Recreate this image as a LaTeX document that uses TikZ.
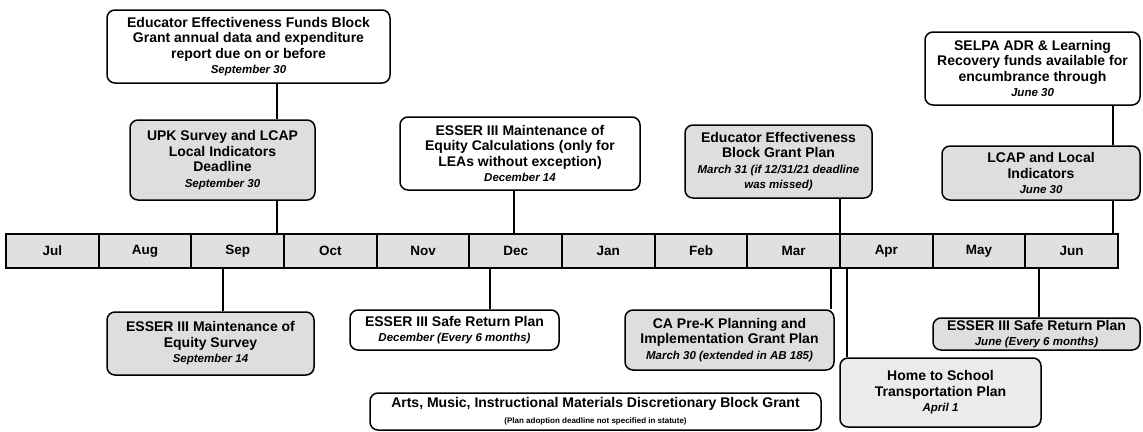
\documentclass[tikz,border=0pt]{standalone}
\usepackage{fontspec}
\setmainfont{Liberation Sans}
\usetikzlibrary{positioning}

\newcommand{\duedate}[1]{{\fontsize{11.5}{13}\selectfont\itshape #1}}

\begin{document}
\begin{tikzpicture}[x=1pt, y=1pt]

\tikzset{
  card/.style    = {rectangle, rounded corners=8pt, align=center, inner sep=0pt,
                    draw=black, line width=1.5pt, fill=white, text=black,
                    font=\fontsize{14}{15.5}\selectfont\bfseries},
  shaded/.style  = {card, fill=black!13},
  monthbox/.style= {rectangle, draw=black, line width=1.8pt, fill=black!12,
                    minimum width=92.67pt, minimum height=34pt, inner sep=0pt,
                    font=\fontsize{13.5}{15}\selectfont\bfseries},
  tick/.style    = {line width=1.1pt, black}
}

\fill[white] (0,0) rectangle (1143,-431);
\useasboundingbox (0,0) rectangle (1143,-431);

%% ── Month bar ───────────────────────────────────────────────────
\foreach \m [count=\i] in {Jul,Aug,Sep,Oct,Nov,Dec,Jan,Feb,Mar,Apr,May,Jun}
  \node[monthbox] (m\i) at ({6+92.67*(\i-0.5)}, -251) {\m};

%% ── Date marks on the bar ───────────────────────────────────────
\coordinate (sep30)  at (277, -234);
\coordinate (dec14)  at (514, -234);
\coordinate (mar31)  at (840, -234);
\coordinate (jun30)  at (1113,-234);
\coordinate (sep14)  at (223, -268);
\coordinate (decsr)  at (490, -268);
\coordinate (mar30)  at (831, -268);
\coordinate (apr1)   at (847, -268);
\coordinate (junsr)  at (1039,-268);

%% ── Above the bar ───────────────────────────────────────────────
\node[card, minimum width=283pt, minimum height=73pt] (effund) at (248.5, -46.5)
      {Educator Effectiveness Funds Block\\Grant annual data and expenditure\\report due on or before\\\duedate{September 30}};
\node[shaded, minimum width=185pt, minimum height=80pt] (upk) at (222.5, -160)
      {UPK Survey and LCAP\\Local Indicators\\Deadline\\\duedate{September 30}};
\node[card, minimum width=240pt, minimum height=73pt] (esscalc) at (520, -153.5)
      {ESSER III Maintenance of\\Equity Calculations (only for\\LEAs without exception)\\\duedate{December 14}};
\node[shaded, minimum width=187pt, minimum height=73pt] (eebg) at (778.5, -161.5)
      {Educator Effectiveness\\Block Grant Plan\\\duedate{March 31 (if 12/31/21 deadline}\\\duedate{was missed)}};
\node[card, minimum width=215pt, minimum height=73pt] (selpa) at (1032.5, -68.5)
      {SELPA ADR \& Learning\\Recovery funds available for\\encumbrance through\\\duedate{June 30}};
\node[shaded, minimum width=198pt, minimum height=54pt] (lcap) at (1041, -173)
      {LCAP and Local\\Indicators\\\duedate{June 30}};

%% ── Below the bar ───────────────────────────────────────────────
\node[shaded, minimum width=207pt, minimum height=63pt] (esssurv) at (210.5, -343.5)
      {ESSER III Maintenance of\\Equity Survey\\\duedate{September 14}};
\node[card, minimum width=209pt, minimum height=40pt] (safedec) at (454.5, -330)
      {ESSER III Safe Return Plan\\\duedate{December (Every 6 months)}};
\node[shaded, minimum width=209pt, minimum height=60pt] (capk) at (729.5, -340)
      {CA Pre-K Planning and\\Implementation Grant Plan\\\duedate{March 30 (extended in AB 185)}};
\node[card, fill=black!8, minimum width=201pt, minimum height=69pt] (home) at (940.5, -392.5)
      {Home to School\\Transportation Plan\\\duedate{April 1}};
\node[shaded, minimum width=207pt, minimum height=32pt] (safejun) at (1036.5, -334)
      {ESSER III Safe Return Plan\\\duedate{June (Every 6 months)}};
\node[card, minimum width=451pt, minimum height=37pt] (arts) at (595.5, -411.5)
      {Arts, Music, Instructional Materials Discretionary Block Grant\\{\fontsize{8}{9}\selectfont (Plan adoption deadline not specified in statute)}};

%% ── Connectors above ────────────────────────────────────────────
\draw[tick] (effund.south -| sep30) -- (upk.north -| sep30);
\draw[tick] (upk.south -| sep30)     -- (sep30);
\draw[tick] (esscalc.south -| dec14) -- (dec14);
\draw[tick] (eebg.south -| mar31)    -- (mar31);
\draw[tick] (selpa.south -| jun30)   -- (lcap.north -| jun30);
\draw[tick] (lcap.south -| jun30)    -- (jun30);

%% ── Connectors below ────────────────────────────────────────────
\draw[tick] (sep14) -- (sep14 |- esssurv.north);
\draw[tick] (decsr) -- (decsr |- safedec.north);
\draw[tick] (mar30) -- (mar30 |- capk.north);
\draw[tick] (apr1)  -- (apr1 |- home.north);
\draw[tick] (junsr) -- (junsr |- safejun.north);

\end{tikzpicture}
\end{document}
